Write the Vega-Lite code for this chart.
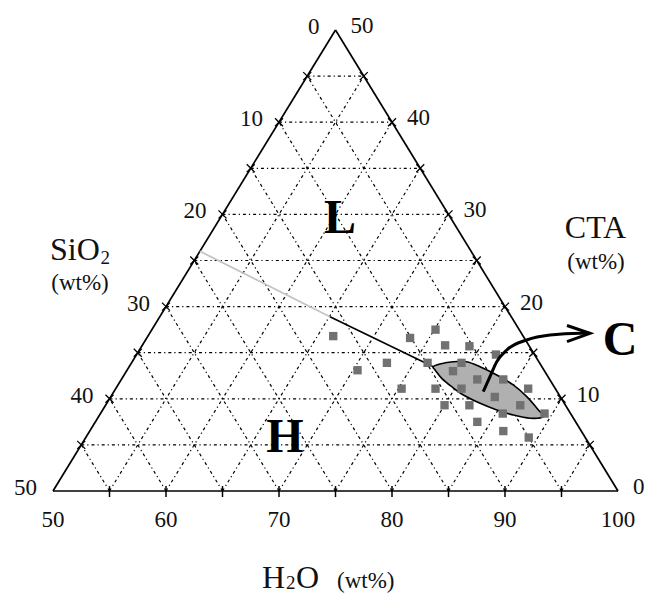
{
  "$schema": "https://vega.github.io/schema/vega-lite/v6.json",
  "width": 565,
  "height": 461,
  "autosize": {"type": "none"},
  "padding": {"left": 53, "top": 30, "right": 30, "bottom": 103},
  "background": "white",
  "config": {"view": {"stroke": null}},
  "datasets": {
    "grid": [
      {"h2o": 50, "cta": 5, "h2o2": 95, "cta2": 5},
      {"h2o": 50, "cta": 10, "h2o2": 90, "cta2": 10},
      {"h2o": 50, "cta": 15, "h2o2": 85, "cta2": 15},
      {"h2o": 50, "cta": 20, "h2o2": 80, "cta2": 20},
      {"h2o": 50, "cta": 25, "h2o2": 75, "cta2": 25},
      {"h2o": 50, "cta": 30, "h2o2": 70, "cta2": 30},
      {"h2o": 50, "cta": 35, "h2o2": 65, "cta2": 35},
      {"h2o": 50, "cta": 40, "h2o2": 60, "cta2": 40},
      {"h2o": 50, "cta": 45, "h2o2": 55, "cta2": 45},
      {"h2o": 55, "cta": 0, "h2o2": 55, "cta2": 45},
      {"h2o": 60, "cta": 0, "h2o2": 60, "cta2": 40},
      {"h2o": 65, "cta": 0, "h2o2": 65, "cta2": 35},
      {"h2o": 70, "cta": 0, "h2o2": 70, "cta2": 30},
      {"h2o": 75, "cta": 0, "h2o2": 75, "cta2": 25},
      {"h2o": 80, "cta": 0, "h2o2": 80, "cta2": 20},
      {"h2o": 85, "cta": 0, "h2o2": 85, "cta2": 15},
      {"h2o": 90, "cta": 0, "h2o2": 90, "cta2": 10},
      {"h2o": 95, "cta": 0, "h2o2": 95, "cta2": 5},
      {"h2o": 95, "cta": 0, "h2o2": 50, "cta2": 45},
      {"h2o": 90, "cta": 0, "h2o2": 50, "cta2": 40},
      {"h2o": 85, "cta": 0, "h2o2": 50, "cta2": 35},
      {"h2o": 80, "cta": 0, "h2o2": 50, "cta2": 30},
      {"h2o": 75, "cta": 0, "h2o2": 50, "cta2": 25},
      {"h2o": 70, "cta": 0, "h2o2": 50, "cta2": 20},
      {"h2o": 65, "cta": 0, "h2o2": 50, "cta2": 15},
      {"h2o": 60, "cta": 0, "h2o2": 50, "cta2": 10},
      {"h2o": 55, "cta": 0, "h2o2": 50, "cta2": 5}
    ],
    "edges": [
      {"h2o": 50, "cta": 0, "h2o2": 100, "cta2": 0},
      {"h2o": 50, "cta": 0, "h2o2": 50, "cta2": 50},
      {"h2o": 100, "cta": 0, "h2o2": 50, "cta2": 50}
    ],
    "sideTicks": [
      {"h2o": 50, "cta": 5}, {"h2o": 50, "cta": 10}, {"h2o": 50, "cta": 15},
      {"h2o": 50, "cta": 20}, {"h2o": 50, "cta": 25}, {"h2o": 50, "cta": 30},
      {"h2o": 50, "cta": 35}, {"h2o": 50, "cta": 40}, {"h2o": 50, "cta": 45},
      {"h2o": 95, "cta": 5}, {"h2o": 90, "cta": 10}, {"h2o": 85, "cta": 15},
      {"h2o": 80, "cta": 20}, {"h2o": 75, "cta": 25}, {"h2o": 70, "cta": 30},
      {"h2o": 65, "cta": 35}, {"h2o": 60, "cta": 40}, {"h2o": 55, "cta": 45}
    ],
    "bottomTicks": [
      {"h2o": 55, "cta": 0}, {"h2o": 60, "cta": 0}, {"h2o": 65, "cta": 0},
      {"h2o": 70, "cta": 0}, {"h2o": 75, "cta": 0}, {"h2o": 80, "cta": 0},
      {"h2o": 85, "cta": 0}, {"h2o": 90, "cta": 0}, {"h2o": 95, "cta": 0}
    ],
    "bottomLabels": [
      {"h2o": 50, "cta": 0, "label": "50"}, {"h2o": 60, "cta": 0, "label": "60"},
      {"h2o": 70, "cta": 0, "label": "70"}, {"h2o": 80, "cta": 0, "label": "80"},
      {"h2o": 90, "cta": 0, "label": "90"}, {"h2o": 100, "cta": 0, "label": "100"}
    ],
    "leftLabels": [
      {"h2o": 50, "cta": 50, "label": "0"}, {"h2o": 50, "cta": 40, "label": "10"},
      {"h2o": 50, "cta": 30, "label": "20"}, {"h2o": 50, "cta": 20, "label": "30"},
      {"h2o": 50, "cta": 10, "label": "40"}, {"h2o": 50, "cta": 0, "label": "50"}
    ],
    "rightLabels": [
      {"h2o": 50, "cta": 50, "label": "50"}, {"h2o": 60, "cta": 40, "label": "40"},
      {"h2o": 70, "cta": 30, "label": "30"}, {"h2o": 80, "cta": 20, "label": "20"},
      {"h2o": 90, "cta": 10, "label": "10"}, {"h2o": 100, "cta": 0, "label": "0"}
    ],
    "boundary": [
      {"part": "metastable", "h2o": 50, "cta": 26.0, "h2o2": 65.06, "cta2": 18.9},
      {"part": "stable", "h2o": 65.06, "cta": 18.9, "h2o2": 76.91, "cta2": 13.48}
    ],
    "leaf": [
      {"i": 1, "h2o": 76.91, "cta": 13.48},
      {"i": 2, "h2o": 77.36, "cta": 13.77},
      {"i": 3, "h2o": 78.41, "cta": 14.02},
      {"i": 4, "h2o": 79.60, "cta": 14.02},
      {"i": 5, "h2o": 81.05, "cta": 13.48},
      {"i": 6, "h2o": 82.98, "cta": 12.58},
      {"i": 7, "h2o": 84.98, "cta": 11.50},
      {"i": 8, "h2o": 86.81, "cta": 10.23},
      {"i": 9, "h2o": 88.56, "cta": 8.79},
      {"i": 10, "h2o": 89.36, "cta": 8.06},
      {"i": 11, "h2o": 88.27, "cta": 7.89},
      {"i": 12, "h2o": 86.61, "cta": 8.24},
      {"i": 13, "h2o": 84.88, "cta": 8.79},
      {"i": 14, "h2o": 83.04, "cta": 9.51},
      {"i": 15, "h2o": 81.11, "cta": 10.41},
      {"i": 16, "h2o": 79.63, "cta": 11.31},
      {"i": 17, "h2o": 78.29, "cta": 12.22},
      {"i": 18, "h2o": 77.25, "cta": 13.12}
    ],
    "samples": [
      {"h2o": 73.3, "cta": 16.6}, {"h2o": 75.1, "cta": 17.5}, {"h2o": 76.8, "cta": 15.8},
      {"h2o": 79.0, "cta": 15.7}, {"h2o": 81.8, "cta": 14.8}, {"h2o": 72.6, "cta": 13.9},
      {"h2o": 76.2, "cta": 13.9}, {"h2o": 79.2, "cta": 13.9}, {"h2o": 78.9, "cta": 13.0},
      {"h2o": 81.5, "cta": 12.1}, {"h2o": 83.8, "cta": 12.1}, {"h2o": 75.3, "cta": 11.1},
      {"h2o": 78.3, "cta": 11.1}, {"h2o": 80.6, "cta": 11.1}, {"h2o": 86.5, "cta": 11.1},
      {"h2o": 84.0, "cta": 10.2}, {"h2o": 80.0, "cta": 9.3}, {"h2o": 82.2, "cta": 9.3},
      {"h2o": 86.7, "cta": 9.3}, {"h2o": 85.6, "cta": 8.4}, {"h2o": 89.3, "cta": 8.4},
      {"h2o": 83.8, "cta": 7.5}, {"h2o": 86.6, "cta": 6.5}, {"h2o": 89.2, "cta": 5.8},
      {"h2o": 66.4, "cta": 16.8}, {"h2o": 70.4, "cta": 13.1}
    ],
    "arrow": [
      {"i": 1, "h2o": 82.69, "cta": 10.77},
      {"i": 2, "h2o": 82.47, "cta": 12.40},
      {"i": 3, "h2o": 82.26, "cta": 14.02},
      {"i": 4, "h2o": 82.51, "cta": 15.29},
      {"i": 5, "h2o": 83.73, "cta": 16.38},
      {"i": 6, "h2o": 85.52, "cta": 16.92},
      {"i": 7, "h2o": 88.09, "cta": 17.10},
      {"i": 8, "h2o": 88.97, "cta": 17.10}
    ],
    "arrowTip": [{"h2o": 88.97, "cta": 17.10}],
    "regions": [
      {"label": "L", "h2o": 61.41, "cta": 27.98},
      {"label": "H", "h2o": 68.40, "cta": 4.26},
      {"label": "C", "h2o": 92.80, "cta": 14.75}
    ]
  },
  "layer": [
    {
      "data": {"name": "grid"},
      "transform": [
        {"calculate": "datum.h2o + datum.cta / 2", "as": "px"},
        {"calculate": "datum.h2o2 + datum.cta2 / 2", "as": "px2"}
      ],
      "mark": {"type": "rule", "color": "black", "strokeWidth": 1.2, "strokeDash": [3, 3, 1.2, 3]},
      "encoding": {
        "x": {"field": "px", "type": "quantitative", "scale": {"domain": [50, 100], "nice": false, "zero": false}, "axis": null},
        "y": {"field": "cta", "type": "quantitative", "scale": {"domain": [0, 50], "nice": false, "zero": false}, "axis": null},
        "x2": {"field": "px2"}, "y2": {"field": "cta2"}
      }
    },
    {
      "data": {"name": "edges"},
      "transform": [
        {"calculate": "datum.h2o + datum.cta / 2", "as": "px"},
        {"calculate": "datum.h2o2 + datum.cta2 / 2", "as": "px2"}
      ],
      "mark": {"type": "rule", "color": "black", "strokeWidth": 1.7},
      "encoding": {
        "x": {"field": "px", "type": "quantitative", "scale": {"domain": [50, 100], "nice": false, "zero": false}, "axis": null},
        "y": {"field": "cta", "type": "quantitative", "scale": {"domain": [0, 50], "nice": false, "zero": false}, "axis": null},
        "x2": {"field": "px2"}, "y2": {"field": "cta2"}
      }
    },
    {
      "data": {"name": "sideTicks"},
      "transform": [{"calculate": "datum.h2o + datum.cta / 2", "as": "px"}],
      "mark": {"type": "point", "shape": "M-1,-1L1,1M-1,1L1,-1", "size": 64, "filled": false, "color": "black", "strokeWidth": 1.3, "opacity": 1},
      "encoding": {
        "x": {"field": "px", "type": "quantitative", "scale": {"domain": [50, 100], "nice": false, "zero": false}, "axis": null},
        "y": {"field": "cta", "type": "quantitative", "scale": {"domain": [0, 50], "nice": false, "zero": false}, "axis": null}
      }
    },
    {
      "data": {"name": "bottomTicks"},
      "transform": [{"calculate": "datum.h2o + datum.cta / 2", "as": "px"}],
      "mark": {"type": "point", "shape": "M0,-0.9L0,1.1", "size": 121, "filled": false, "color": "black", "strokeWidth": 1.5, "opacity": 1},
      "encoding": {
        "x": {"field": "px", "type": "quantitative", "scale": {"domain": [50, 100], "nice": false, "zero": false}, "axis": null},
        "y": {"field": "cta", "type": "quantitative", "scale": {"domain": [0, 50], "nice": false, "zero": false}, "axis": null}
      }
    },
    {
      "data": {"name": "bottomLabels"},
      "transform": [{"calculate": "datum.h2o + datum.cta / 2", "as": "px"}],
      "mark": {"type": "text", "font": "Liberation Serif", "fontSize": 23, "align": "center", "baseline": "middle", "dy": 29, "color": "#111"},
      "encoding": {
        "x": {"field": "px", "type": "quantitative", "scale": {"domain": [50, 100], "nice": false, "zero": false}, "axis": null},
        "y": {"field": "cta", "type": "quantitative", "scale": {"domain": [0, 50], "nice": false, "zero": false}, "axis": null},
        "text": {"field": "label"}
      }
    },
    {
      "data": {"name": "leftLabels"},
      "transform": [{"calculate": "datum.h2o + datum.cta / 2", "as": "px"}],
      "mark": {"type": "text", "font": "Liberation Serif", "fontSize": 23, "align": "right", "baseline": "middle", "dx": -16, "dy": -3, "color": "#111"},
      "encoding": {
        "x": {"field": "px", "type": "quantitative", "scale": {"domain": [50, 100], "nice": false, "zero": false}, "axis": null},
        "y": {"field": "cta", "type": "quantitative", "scale": {"domain": [0, 50], "nice": false, "zero": false}, "axis": null},
        "text": {"field": "label"}
      }
    },
    {
      "data": {"name": "rightLabels"},
      "transform": [{"calculate": "datum.h2o + datum.cta / 2", "as": "px"}],
      "mark": {"type": "text", "font": "Liberation Serif", "fontSize": 23, "align": "left", "baseline": "middle", "dx": 15, "dy": -4, "color": "#111"},
      "encoding": {
        "x": {"field": "px", "type": "quantitative", "scale": {"domain": [50, 100], "nice": false, "zero": false}, "axis": null},
        "y": {"field": "cta", "type": "quantitative", "scale": {"domain": [0, 50], "nice": false, "zero": false}, "axis": null},
        "text": {"field": "label"}
      }
    },
    {
      "data": {"name": "boundary"},
      "transform": [
        {"filter": "datum.part === 'metastable'"},
        {"calculate": "datum.h2o + datum.cta / 2", "as": "px"},
        {"calculate": "datum.h2o2 + datum.cta2 / 2", "as": "px2"}
      ],
      "mark": {"type": "rule", "color": "#c4c4c4", "strokeWidth": 1.8},
      "encoding": {
        "x": {"field": "px", "type": "quantitative", "scale": {"domain": [50, 100], "nice": false, "zero": false}, "axis": null},
        "y": {"field": "cta", "type": "quantitative", "scale": {"domain": [0, 50], "nice": false, "zero": false}, "axis": null},
        "x2": {"field": "px2"}, "y2": {"field": "cta2"}
      }
    },
    {
      "data": {"name": "boundary"},
      "transform": [
        {"filter": "datum.part === 'stable'"},
        {"calculate": "datum.h2o + datum.cta / 2", "as": "px"},
        {"calculate": "datum.h2o2 + datum.cta2 / 2", "as": "px2"}
      ],
      "mark": {"type": "rule", "color": "black", "strokeWidth": 1.6},
      "encoding": {
        "x": {"field": "px", "type": "quantitative", "scale": {"domain": [50, 100], "nice": false, "zero": false}, "axis": null},
        "y": {"field": "cta", "type": "quantitative", "scale": {"domain": [0, 50], "nice": false, "zero": false}, "axis": null},
        "x2": {"field": "px2"}, "y2": {"field": "cta2"}
      }
    },
    {
      "data": {"name": "leaf"},
      "transform": [{"calculate": "datum.h2o + datum.cta / 2", "as": "px"}],
      "mark": {"type": "line", "interpolate": "cardinal-closed", "fill": "#b0b0b0", "stroke": "black", "strokeWidth": 1.6},
      "encoding": {
        "x": {"field": "px", "type": "quantitative", "scale": {"domain": [50, 100], "nice": false, "zero": false}, "axis": null},
        "y": {"field": "cta", "type": "quantitative", "scale": {"domain": [0, 50], "nice": false, "zero": false}, "axis": null},
        "order": {"field": "i", "type": "quantitative"}
      }
    },
    {
      "data": {"name": "samples"},
      "transform": [{"calculate": "datum.h2o + datum.cta / 2", "as": "px"}],
      "mark": {"type": "point", "shape": "square", "size": 70, "filled": true, "color": "#717171", "opacity": 1},
      "encoding": {
        "x": {"field": "px", "type": "quantitative", "scale": {"domain": [50, 100], "nice": false, "zero": false}, "axis": null},
        "y": {"field": "cta", "type": "quantitative", "scale": {"domain": [0, 50], "nice": false, "zero": false}, "axis": null}
      }
    },
    {
      "data": {"name": "arrow"},
      "transform": [{"calculate": "datum.h2o + datum.cta / 2", "as": "px"}],
      "mark": {"type": "line", "interpolate": "monotone", "color": "black", "strokeWidth": 3},
      "encoding": {
        "x": {"field": "px", "type": "quantitative", "scale": {"domain": [50, 100], "nice": false, "zero": false}, "axis": null},
        "y": {"field": "cta", "type": "quantitative", "scale": {"domain": [0, 50], "nice": false, "zero": false}, "axis": null},
        "order": {"field": "i", "type": "quantitative"}
      }
    },
    {
      "data": {"name": "arrowTip"},
      "transform": [{"calculate": "datum.h2o + datum.cta / 2", "as": "px"}],
      "mark": {"type": "point", "shape": "M-1,-0.34L0,0L-1,0.36", "size": 2116, "filled": false, "color": "black", "strokeWidth": 3, "opacity": 1},
      "encoding": {
        "x": {"field": "px", "type": "quantitative", "scale": {"domain": [50, 100], "nice": false, "zero": false}, "axis": null},
        "y": {"field": "cta", "type": "quantitative", "scale": {"domain": [0, 50], "nice": false, "zero": false}, "axis": null}
      }
    },
    {
      "data": {"name": "regions"},
      "transform": [{"calculate": "datum.h2o + datum.cta / 2", "as": "px"}],
      "mark": {"type": "text", "font": "Liberation Serif", "fontSize": 48, "fontWeight": "bold", "align": "center", "baseline": "alphabetic", "color": "black"},
      "encoding": {
        "x": {"field": "px", "type": "quantitative", "scale": {"domain": [50, 100], "nice": false, "zero": false}, "axis": null},
        "y": {"field": "cta", "type": "quantitative", "scale": {"domain": [0, 50], "nice": false, "zero": false}, "axis": null},
        "text": {"field": "label"}
      }
    },
    {
      "data": {"values": [{}]},
      "mark": {"type": "text", "text": "SiO", "font": "Liberation Serif", "fontSize": 32, "align": "left", "baseline": "alphabetic", "color": "#111"},
      "encoding": {"x": {"datum": 49.73, "type": "quantitative"}, "y": {"datum": 25.05, "type": "quantitative"}}
    },
    {
      "data": {"values": [{}]},
      "mark": {"type": "text", "text": "2", "font": "Liberation Serif", "fontSize": 19, "align": "left", "baseline": "alphabetic", "color": "#111"},
      "encoding": {"x": {"datum": 54.2, "type": "quantitative"}, "y": {"datum": 24.62, "type": "quantitative"}}
    },
    {
      "data": {"values": [{}]},
      "mark": {"type": "text", "text": "(wt%)", "font": "Liberation Serif", "fontSize": 23, "align": "center", "baseline": "alphabetic", "color": "#111"},
      "encoding": {"x": {"datum": 52.39, "type": "quantitative"}, "y": {"datum": 21.8, "type": "quantitative"}}
    },
    {
      "data": {"values": [{}]},
      "mark": {"type": "text", "text": "CTA", "font": "Liberation Serif", "fontSize": 32, "align": "center", "baseline": "alphabetic", "color": "#111"},
      "encoding": {"x": {"datum": 98.01, "type": "quantitative"}, "y": {"datum": 27.44, "type": "quantitative"}}
    },
    {
      "data": {"values": [{}]},
      "mark": {"type": "text", "text": "(wt%)", "font": "Liberation Serif", "fontSize": 23, "align": "center", "baseline": "alphabetic", "color": "#111"},
      "encoding": {"x": {"datum": 98.05, "type": "quantitative"}, "y": {"datum": 24.08, "type": "quantitative"}}
    },
    {
      "data": {"values": [{}]},
      "mark": {"type": "text", "text": "H", "font": "Liberation Serif", "fontSize": 32, "align": "left", "baseline": "alphabetic", "color": "#111"},
      "encoding": {"x": {"datum": 68.5, "type": "quantitative"}, "y": {"datum": -10.52, "type": "quantitative"}}
    },
    {
      "data": {"values": [{}]},
      "mark": {"type": "text", "text": "2", "font": "Liberation Serif", "fontSize": 19, "align": "left", "baseline": "alphabetic", "color": "#111"},
      "encoding": {"x": {"datum": 70.62, "type": "quantitative"}, "y": {"datum": -10.63, "type": "quantitative"}}
    },
    {
      "data": {"values": [{}]},
      "mark": {"type": "text", "text": "O", "font": "Liberation Serif", "fontSize": 32, "align": "left", "baseline": "alphabetic", "color": "#111"},
      "encoding": {"x": {"datum": 71.5, "type": "quantitative"}, "y": {"datum": -10.52, "type": "quantitative"}}
    },
    {
      "data": {"values": [{}]},
      "mark": {"type": "text", "text": "(wt%)", "font": "Liberation Serif", "fontSize": 23, "align": "left", "baseline": "alphabetic", "color": "#111"},
      "encoding": {"x": {"datum": 75.13, "type": "quantitative"}, "y": {"datum": -10.52, "type": "quantitative"}}
    }
  ]
}
